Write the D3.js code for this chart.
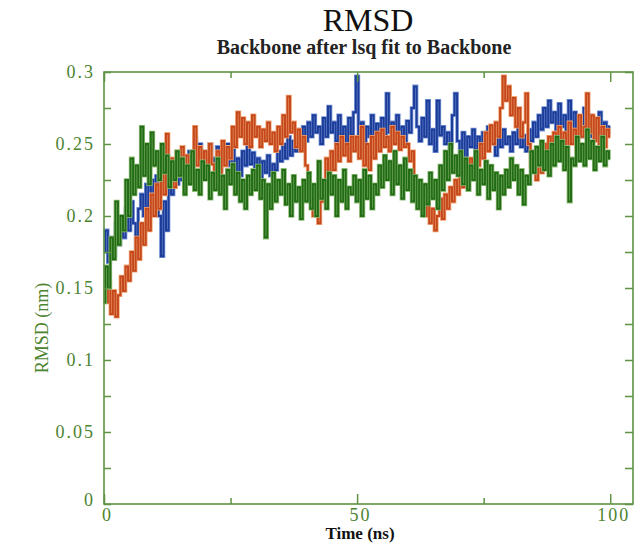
<!doctype html>
<html>
<head>
<meta charset="utf-8"/>
<title>RMSD</title>
<script src="https://d3js.org/d3.v7.min.js"></script>
<style>
  body { margin: 0; background: #fff; }
  text { font-family: "Liberation Serif", "DejaVu Serif", serif; }
</style>
</head>
<body>
<script>
// time step 0.5 ns, 0..100 ns
const step = 0.5;

const blue = [
 0.175,0.19,0.168,0.185,0.172,0.195,0.18,0.2,0.185,0.205,
 0.19,0.21,0.195,0.172,0.205,0.215,0.2,0.222,0.205,0.225,
 0.212,0.228,0.2,0.172,0.21,0.19,0.225,0.215,0.235,0.222,
 0.238,0.225,0.242,0.23,0.245,0.235,0.255,0.24,0.25,0.238,
 0.245,0.232,0.25,0.24,0.236,0.248,0.232,0.244,0.238,0.25,
 0.235,0.246,0.232,0.24,0.228,0.245,0.235,0.25,0.236,0.244,
 0.232,0.24,0.226,0.238,0.23,0.242,0.228,0.236,0.232,0.245,
 0.238,0.25,0.24,0.255,0.242,0.252,0.245,0.26,0.25,0.262,
 0.252,0.265,0.255,0.27,0.258,0.262,0.25,0.268,0.255,0.276,
 0.258,0.265,0.252,0.27,0.256,0.262,0.25,0.268,0.256,0.272,
 0.297,0.255,0.265,0.248,0.262,0.255,0.27,0.25,0.264,0.258,
 0.268,0.255,0.285,0.258,0.265,0.25,0.27,0.256,0.262,0.25,
 0.266,0.258,0.275,0.29,0.262,0.252,0.268,0.255,0.28,0.25,
 0.26,0.245,0.28,0.256,0.262,0.25,0.258,0.248,0.27,0.285,
 0.252,0.245,0.258,0.24,0.255,0.248,0.26,0.244,0.255,0.25,
 0.258,0.245,0.262,0.25,0.258,0.242,0.255,0.248,0.26,0.25,
 0.255,0.245,0.258,0.25,0.262,0.248,0.256,0.245,0.26,0.252,
 0.265,0.255,0.27,0.26,0.275,0.262,0.28,0.265,0.272,0.26,
 0.278,0.262,0.27,0.255,0.28,0.26,0.272,0.258,0.268,0.255,
 0.275,0.26,0.27,0.255,0.265,0.258,0.272,0.256,0.265,0.258,
 0.262
];

const orange = [
 0.152,0.14,0.155,0.132,0.148,0.13,0.145,0.158,0.148,0.165,
 0.155,0.175,0.162,0.185,0.17,0.195,0.18,0.205,0.19,0.215,
 0.2,0.222,0.205,0.23,0.215,0.257,0.225,0.24,0.22,0.245,
 0.228,0.248,0.232,0.242,0.225,0.238,0.262,0.235,0.248,0.23,
 0.245,0.228,0.25,0.236,0.222,0.245,0.23,0.252,0.235,0.248,
 0.24,0.262,0.248,0.272,0.255,0.268,0.25,0.265,0.248,0.27,
 0.255,0.262,0.248,0.26,0.252,0.265,0.25,0.258,0.245,0.262,
 0.25,0.27,0.255,0.283,0.258,0.265,0.248,0.26,0.245,0.255,
 0.235,0.22,0.21,0.2,0.215,0.195,0.21,0.225,0.24,0.23,
 0.245,0.232,0.25,0.238,0.255,0.242,0.25,0.238,0.255,0.245,
 0.255,0.24,0.262,0.235,0.25,0.232,0.255,0.24,0.258,0.245,
 0.26,0.248,0.255,0.245,0.262,0.25,0.258,0.246,0.255,0.248,
 0.25,0.238,0.245,0.225,0.215,0.205,0.215,0.2,0.21,0.195,
 0.205,0.19,0.2,0.212,0.198,0.215,0.205,0.22,0.21,0.225,
 0.215,0.23,0.22,0.235,0.225,0.24,0.23,0.245,0.235,0.25,
 0.24,0.258,0.245,0.263,0.25,0.265,0.255,0.275,0.297,0.28,
 0.29,0.27,0.282,0.262,0.275,0.255,0.265,0.285,0.25,0.235,
 0.245,0.225,0.24,0.23,0.25,0.238,0.255,0.242,0.258,0.245,
 0.262,0.248,0.258,0.242,0.265,0.25,0.26,0.245,0.27,0.255,
 0.262,0.285,0.258,0.27,0.252,0.268,0.25,0.262,0.248,0.26,
 0.255
];

const green = [
 0.14,0.165,0.15,0.185,0.17,0.21,0.18,0.2,0.19,0.225,
 0.2,0.24,0.215,0.235,0.22,0.262,0.228,0.25,0.222,0.258,
 0.235,0.245,0.225,0.25,0.23,0.242,0.22,0.238,0.225,0.245,
 0.228,0.24,0.215,0.235,0.222,0.245,0.218,0.232,0.215,0.238,
 0.225,0.235,0.212,0.23,0.218,0.24,0.215,0.228,0.205,0.232,
 0.222,0.236,0.215,0.23,0.21,0.225,0.205,0.228,0.215,0.232,
 0.218,0.235,0.212,0.225,0.185,0.222,0.205,0.23,0.21,0.225,
 0.215,0.232,0.208,0.222,0.2,0.228,0.21,0.22,0.198,0.225,
 0.21,0.23,0.205,0.222,0.2,0.238,0.212,0.225,0.205,0.23,
 0.215,0.228,0.2,0.225,0.21,0.232,0.205,0.22,0.215,0.228,
 0.21,0.225,0.2,0.232,0.212,0.228,0.205,0.222,0.215,0.235,
 0.22,0.242,0.225,0.238,0.215,0.245,0.222,0.235,0.212,0.24,
 0.218,0.232,0.21,0.228,0.205,0.225,0.2,0.222,0.208,0.23,
 0.212,0.225,0.205,0.235,0.218,0.245,0.225,0.25,0.23,0.242,
 0.228,0.245,0.222,0.24,0.218,0.235,0.225,0.245,0.215,0.232,
 0.222,0.238,0.212,0.235,0.218,0.23,0.205,0.228,0.215,0.232,
 0.22,0.24,0.225,0.235,0.215,0.232,0.208,0.228,0.222,0.245,
 0.23,0.248,0.235,0.252,0.232,0.245,0.228,0.25,0.235,0.255,
 0.238,0.252,0.232,0.248,0.21,0.24,0.235,0.255,0.238,0.25,
 0.235,0.26,0.24,0.252,0.232,0.248,0.238,0.255,0.235,0.245,
 0.24
];

const xTicks = [0, 50, 100];
const xMinor = [25, 75];
const yTicks = [0, 0.05, 0.1, 0.15, 0.2, 0.25, 0.3];
const yMinor = [0.025, 0.075, 0.125, 0.175, 0.225, 0.275];

const series = [
  { name: 'blue',   values: blue,   dark: '#1c3c9a', light: '#7896d6' },
  { name: 'orange', values: orange, dark: '#c4481c', light: '#f2a676' },
  { name: 'green',  values: green,  dark: '#216c14', light: '#92bd7a' }
];

const axisCol = '#5e9343';
const textCol = '#4c8430';

const W = 637, H = 545;
const mLeft = 104, mRight = 633, mTop = 72, mBottom = 504;

const svg = d3.select('body').append('svg').attr('width', W).attr('height', H);

const x = d3.scaleLinear().domain([0, 104.5]).range([mLeft, mRight]);
const y = d3.scaleLinear().domain([0, 0.3]).range([mBottom, mTop]);

// series, drawn as steps so they look like dense vertical bars
const line = d3.line()
  .curve(d3.curveStep)
  .x((d, i) => x(i * step))
  .y(d => y(d));

series.forEach(s => {
  svg.append('path').datum(s.values)
    .attr('fill', 'none')
    .attr('stroke', s.light)
    .attr('stroke-width', 3.6)
    .attr('d', line);
  svg.append('path').datum(s.values)
    .attr('fill', 'none')
    .attr('stroke', s.dark)
    .attr('stroke-width', 2)
    .attr('d', line);
});

// frame
svg.append('rect')
  .attr('x', mLeft).attr('y', mTop)
  .attr('width', mRight - mLeft).attr('height', mBottom - mTop)
  .attr('fill', 'none').attr('stroke', axisCol).attr('stroke-width', 1.6);

function styleAxis(g) {
  g.select('.domain').remove();
  g.selectAll('line').attr('stroke', axisCol).attr('stroke-width', 1.5);
  g.selectAll('text').attr('fill', textCol).style('font-size', '18px')
    .style('letter-spacing', '2px')
    .style('font-family', '"Liberation Serif", serif');
}

// bottom
svg.append('g').attr('transform', `translate(0,${mBottom})`)
  .call(d3.axisBottom(x).tickValues(xTicks).tickSize(-10).tickPadding(4).tickFormat(d3.format('d')))
  .call(styleAxis)
  .call(g => g.selectAll('text').attr('dx', 3));
svg.append('g').attr('transform', `translate(0,${mBottom})`)
  .call(d3.axisBottom(x).tickValues(xMinor).tickSize(-6).tickFormat(''))
  .call(styleAxis);
// top
svg.append('g').attr('transform', `translate(0,${mTop})`)
  .call(d3.axisTop(x).tickValues(xTicks).tickSize(-10).tickFormat(''))
  .call(styleAxis);
svg.append('g').attr('transform', `translate(0,${mTop})`)
  .call(d3.axisTop(x).tickValues(xMinor).tickSize(-6).tickFormat(''))
  .call(styleAxis);
// left
svg.append('g').attr('transform', `translate(${mLeft},0)`)
  .call(d3.axisLeft(y).tickValues(yTicks).tickSize(-7).tickPadding(9)
    .tickFormat(d => d === 0 ? '0' : String(+d.toFixed(3))))
  .call(styleAxis)
  .call(g => g.selectAll('text').filter(d => d === 0).attr('dy', '0.1em'));
svg.append('g').attr('transform', `translate(${mLeft},0)`)
  .call(d3.axisLeft(y).tickValues(yMinor).tickSize(-7).tickFormat(''))
  .call(styleAxis);
// right
svg.append('g').attr('transform', `translate(${mRight},0)`)
  .call(d3.axisRight(y).tickValues(yTicks.concat(yMinor)).tickSize(-8).tickFormat(''))
  .call(styleAxis);

// titles
svg.append('text').attr('x', 368).attr('y', 31).attr('text-anchor', 'middle')
  .style('font-size', '32px').attr('fill', '#111').text('RMSD');
svg.append('text').attr('x', 364).attr('y', 54).attr('text-anchor', 'middle')
  .style('font-size', '20px').style('font-weight', 'bold').attr('fill', '#222')
  .text('Backbone after lsq fit to Backbone');
svg.append('text').attr('x', 360).attr('y', 539).attr('text-anchor', 'middle')
  .style('font-size', '17px').style('font-weight', 'bold').attr('fill', '#111')
  .text('Time (ns)');
svg.append('text')
  .attr('transform', 'translate(48,328) rotate(-90)')
  .attr('text-anchor', 'middle')
  .style('font-size', '18px').attr('fill', textCol)
  .text('RMSD (nm)');
</script>
</body>
</html>
